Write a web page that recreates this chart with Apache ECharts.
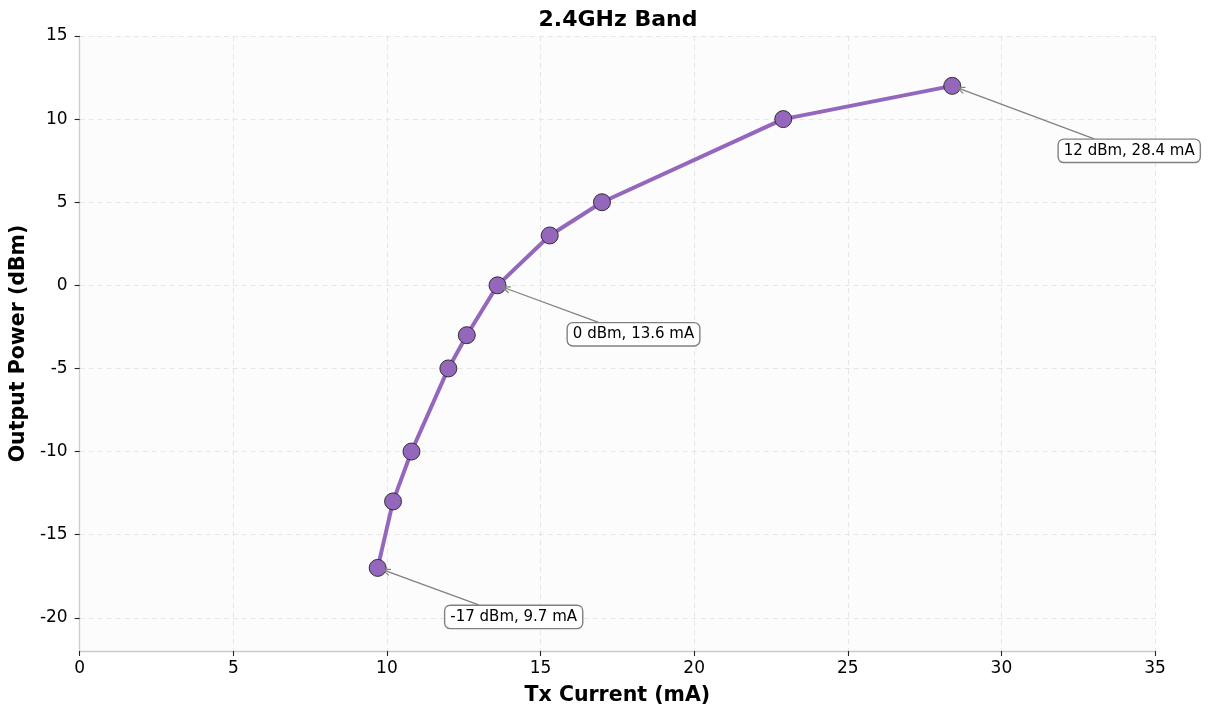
<!DOCTYPE html>
<html><head><meta charset="utf-8">
<script src="https://cdn.jsdelivr.net/npm/echarts@6/dist/echarts.min.js"></script>
<style>html,body{margin:0;padding:0;background:#fff}#c{width:1209px;height:711px}</style>
</head><body><div id="c"></div>
<script>
const txCurrent = [9.7, 10.2, 10.8, 12, 12.6, 13.6, 15.3, 17, 22.9, 28.4];
const outputPower = [-17, -13, -10, -5, -3, 0, 3, 5, 10, 12];
const yTicks = [-20, -15, -10, -5, 0, 5, 10, 15];
const annotatedIdx = [0, 5, 9];
const annotationLabels = ['-17 dBm, 9.7 mA', '0 dBm, 13.6 mA', '12 dBm, 28.4 mA'];
const annotationOffsets = [[136, 49], [136, 49], [177, 65]];

const FONT = 'DejaVu Sans';
const PURPLE = '#9467bd';
const chart = echarts.init(document.getElementById('c'), null, {renderer: 'canvas'});
const pts = txCurrent.map((x, i) => [x, outputPower[i]]);

chart.setOption({
  animation: false,
  backgroundColor: '#ffffff',
  title: {text: '2.4GHz Band', left: 613, top: 4, textAlign: 'center',
    textStyle: {fontFamily: FONT, fontWeight: 'bold', fontSize: 22, color: '#000'}},
  grid: {left: 79, right: 54, top: 36, bottom: 60, show: true, backgroundColor: '#fcfcfc', borderWidth: 0},
  xAxis: {type: 'value', min: 0, max: 35, interval: 5,
    name: 'Tx Current (mA)', nameLocation: 'middle', nameGap: 34,
    nameTextStyle: {fontFamily: FONT, fontWeight: 'bold', fontSize: 20.5, color: '#000'},
    axisLine: {show: true, onZero: false, lineStyle: {color: '#cccccc', width: 1.3}},
    axisTick: {show: true, length: 5, lineStyle: {color: '#222', width: 1.1}},
    axisLabel: {fontFamily: FONT, fontSize: 17, color: '#000', margin: 9},
    splitLine: {show: true, lineStyle: {color: '#e6e6e6', type: [5, 4], width: 1}}},
  yAxis: {type: 'value', min: -22, max: 15, splitNumber: 7,
    name: 'Output Power (dBm)', nameLocation: 'middle', nameGap: 47,
    nameTextStyle: {fontFamily: FONT, fontWeight: 'bold', fontSize: 20.5, color: '#000'},
    axisLine: {show: true, onZero: false, lineStyle: {color: '#cccccc', width: 1.3}},
    axisTick: {show: true, length: 5, customValues: yTicks, lineStyle: {color: '#222', width: 1.1}},
    axisLabel: {fontFamily: FONT, fontSize: 17, color: '#000', margin: 12, customValues: yTicks},
    splitLine: {show: true, lineStyle: {color: '#e6e6e6', type: [5, 4], width: 1}}},
  series: [{type: 'line', data: pts, smooth: false,
    lineStyle: {color: PURPLE, width: 4},
    symbol: 'circle', symbolSize: 17,
    itemStyle: {color: PURPLE, borderColor: '#222', borderWidth: 0.9},
    z: 3}]
});

function drawAnnotations() {
  const els = [];
  annotatedIdx.forEach((idx, k) => {
    const p = chart.convertToPixel({gridIndex: 0}, pts[idx]);
    const cx = p[0] + annotationOffsets[k][0];
    const cy = p[1] + annotationOffsets[k][1];
    const sx = cx - 35, sy = cy - 12;
    const dx = p[0] - sx, dy = p[1] - sy;
    const len = Math.sqrt(dx * dx + dy * dy);
    const ux = dx / len, uy = dy / len;
    const ex = p[0] - ux * 5, ey = p[1] - uy * 5;
    const ah = 8, aw = 3.2;
    const bx = ex - ux * ah, by = ey - uy * ah;
    els.push({type: 'line', z: 10, shape: {x1: sx, y1: sy, x2: ex, y2: ey},
      style: {stroke: '#808080', lineWidth: 1.2}});
    els.push({type: 'polyline', z: 10, shape: {points: [[bx - uy * aw, by + ux * aw], [ex, ey], [bx + uy * aw, by - ux * aw]]},
      style: {stroke: '#808080', lineWidth: 1.2, fill: null}});
    els.push({type: 'text', z: 11, x: cx, y: cy,
      style: {text: annotationLabels[k], fontFamily: FONT, fontSize: 15, fill: '#000',
        align: 'center', verticalAlign: 'middle',
        backgroundColor: '#fff', borderColor: '#808080', borderWidth: 1.4, borderRadius: 5,
        padding: [4, 5, 3, 5]}});
  });
  chart.setOption({graphic: {elements: els}});
}
drawAnnotations();
</script></body></html>
